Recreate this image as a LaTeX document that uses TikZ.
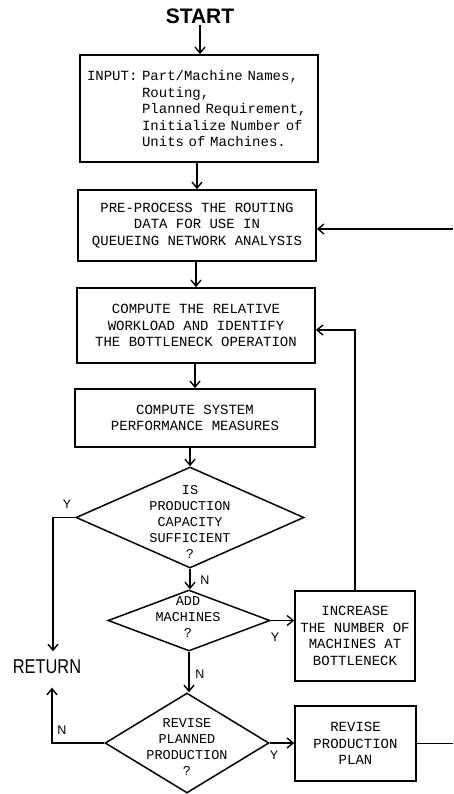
\documentclass[tikz,border=0pt]{standalone}
\usepackage{fontspec}
\setsansfont{Liberation Sans}
\setmonofont{Liberation Mono}
\usetikzlibrary{arrows.meta,shapes.geometric}
\begin{document}
\begin{tikzpicture}[x=1pt,y=-1pt,
 line width=1.4pt,
 arr/.style={-{Straight Barb[length=6pt,width=10pt]}},
 box/.style={draw,line width=1.7pt,rectangle,inner sep=0pt,align=center,font=\fontsize{14}{16.5}\selectfont\ttfamily},
 dia/.style={draw,line width=1.5pt,diamond,inner sep=0pt},
 dtext/.style={align=center,inner sep=0pt,font=\fontsize{13.5}{16}\selectfont\ttfamily},
 lab/.style={font=\fontsize{12.5}{14}\selectfont\sffamily,inner sep=0pt},
]
\useasboundingbox (0,0) rectangle (453,794);

\node[font=\bfseries\fontsize{21}{24}\selectfont\sffamily,inner sep=1pt] (start) at (200,16) {START};
\node[box,minimum width=238,minimum height=107,text width=224,align=left] (input) at (199,108.5)
 {INPUT: Part/Machine Names,\\\phantom{INPUT: }Routing,\\\phantom{INPUT: }Planned Requirement,\\\phantom{INPUT: }Initialize Number of\\\phantom{INPUT: }Units of Machines.};
\node[box,minimum width=238,minimum height=71] (pre) at (197,225.5) {PRE-PROCESS THE ROUTING\\DATA FOR USE IN\\QUEUEING NETWORK ANALYSIS};
\node[box,minimum width=238,minimum height=75] (rel) at (196,325.5) {COMPUTE THE RELATIVE\\WORKLOAD AND IDENTIFY\\THE BOTTLENECK OPERATION};
\node[box,minimum width=240,minimum height=58] (sys) at (195,418) {COMPUTE SYSTEM\\PERFORMANCE MEASURES};
\node[dia,minimum width=228,minimum height=101] (d1) at (190,517.5) {};
\node[dtext] (t1) at (190,522) {IS\\PRODUCTION\\CAPACITY\\SUFFICIENT\\?};
\node[dia,minimum width=162,minimum height=61] (d2) at (189,620.5) {};
\node[dtext] (t2) at (188,617) {ADD\\MACHINES\\?};
\node[box,minimum width=120,minimum height=90] (inc) at (355,636) {INCREASE\\THE NUMBER OF\\MACHINES AT\\BOTTLENECK};
\node[dia,minimum width=164,minimum height=100] (d3) at (187,743) {};
\node[dtext] (t3) at (187,747) {REVISE\\PLANNED\\PRODUCTION\\?};
\node[box,minimum width=121,minimum height=75] (plan) at (355.5,743.5) {REVISE\\PRODUCTION\\PLAN};
\node[font=\fontsize{20}{22}\selectfont\sffamily,inner sep=0pt] (ret) at (47,667) {\scalebox{0.82}[1]{RETURN}};

\coordinate (inR) at (453,229);
\coordinate (outR) at (453,743.5);

\draw[arr] (start.south) -- (start.south |- input.north);
\draw[arr] (pre.north |- input.south) -- (pre.north);
\draw[arr] (rel.north |- pre.south) -- (rel.north);
\draw[arr] (sys.north |- rel.south) -- (sys.north);
\draw[arr] (d1.north |- sys.south) -- (d1.north);
\draw[arr] (d1.south) -- (d1.south |- d2.north);
\draw[arr] (d2.south) -- (d2.south |- d3.north);
\draw[arr] (d2.east) -- (d2.east -| inc.west);
\draw[arr] (inc.north) |- ([yshift=-4.5pt]rel.east);
\draw[arr] (inR) -- (inR -| pre.east);
\draw[arr] (d1.west) -| ([xshift=6pt,yshift=8pt]ret.north);
\draw[arr] (d3.west) -| ([xshift=5pt,yshift=-13pt]ret.south);
\draw[arr] (d3.east) -- (d3.east -| plan.west);
\draw (plan.east) -- (plan.east -| outR);

\node[lab] (ly1) at (67,504) {Y};
\node[lab] (ln1) at (205,580) {N};
\node[lab] (ly2) at (275,637) {Y};
\node[lab] (ln2) at (200,674) {N};
\node[lab] (ln3) at (62,730) {N};
\node[lab] (ly3) at (274,755) {Y};
\end{tikzpicture}
\end{document}
